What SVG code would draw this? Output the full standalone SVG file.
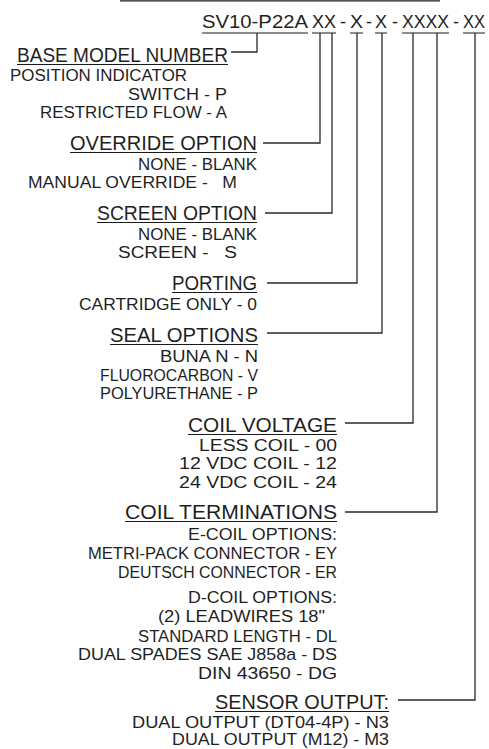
<svg xmlns="http://www.w3.org/2000/svg" width="489" height="749" viewBox="0 0 489 749">
<style>
text{font-family:"Liberation Sans",Arial,sans-serif;fill:#1f1f1f;white-space:pre;}
.h{font-size:20px;}
.i{font-size:16px;}
.m{font-size:19px;}
.u{stroke:#1a1a1a;stroke-width:1.2;fill:none;}
.c{stroke:#2a2a2a;stroke-width:1.3;fill:none;}
</style>
<rect width="489" height="749" fill="#fff"/>
<line class="u" x1="120" y1="0.8" x2="440" y2="0.8" stroke-width="1.6"/>

<g id="model">
<text class="m" x="202" y="28" textLength="106" lengthAdjust="spacingAndGlyphs">SV10-P22A</text>
<text class="m" x="312" y="28" textLength="24" lengthAdjust="spacingAndGlyphs">XX</text>
<text class="m" x="340" y="28" textLength="6" lengthAdjust="spacingAndGlyphs">-</text>
<text class="m" x="350" y="28" textLength="13" lengthAdjust="spacingAndGlyphs">X</text>
<text class="m" x="366" y="28" textLength="6" lengthAdjust="spacingAndGlyphs">-</text>
<text class="m" x="375" y="28" textLength="12" lengthAdjust="spacingAndGlyphs">X</text>
<text class="m" x="392" y="28" textLength="6" lengthAdjust="spacingAndGlyphs">-</text>
<text class="m" x="402" y="28" textLength="47" lengthAdjust="spacingAndGlyphs">XXXX</text>
<text class="m" x="453" y="28" textLength="6" lengthAdjust="spacingAndGlyphs">-</text>
<text class="m" x="463" y="28" textLength="22" lengthAdjust="spacingAndGlyphs">XX</text>
<path class="u" d="M202 33H308M312 33H336M350 33H363M375 33H387M402 33H449M463 33H485"/>
</g>

<g id="base">
<text class="h" x="17" y="62" textLength="211" lengthAdjust="spacingAndGlyphs">BASE MODEL NUMBER</text>
<line class="u" x1="17" y1="64.5" x2="228" y2="64.5"/>
<text class="i" x="10" y="81" textLength="177" lengthAdjust="spacingAndGlyphs">POSITION INDICATOR</text>
<text class="i" x="128" y="100" textLength="99" lengthAdjust="spacingAndGlyphs">SWITCH - P</text>
<text class="i" x="40" y="118" textLength="187" lengthAdjust="spacingAndGlyphs">RESTRICTED FLOW - A</text>
</g>

<g id="override">
<text class="h" x="70" y="150" textLength="187" lengthAdjust="spacingAndGlyphs">OVERRIDE OPTION</text>
<line class="u" x1="70" y1="152.5" x2="257" y2="152.5"/>
<text class="i" x="138" y="170" textLength="119" lengthAdjust="spacingAndGlyphs">NONE - BLANK</text>
<text class="i" x="28" y="188" textLength="209" lengthAdjust="spacingAndGlyphs">MANUAL OVERRIDE -   M</text>
</g>

<g id="screen">
<text class="h" x="97" y="220" textLength="160" lengthAdjust="spacingAndGlyphs">SCREEN OPTION</text>
<line class="u" x1="97" y1="222.5" x2="257" y2="222.5"/>
<text class="i" x="138" y="240" textLength="119" lengthAdjust="spacingAndGlyphs">NONE - BLANK</text>
<text class="i" x="118" y="258" textLength="119" lengthAdjust="spacingAndGlyphs">SCREEN -   S</text>
</g>

<g id="porting">
<text class="h" x="172" y="290" textLength="85" lengthAdjust="spacingAndGlyphs">PORTING</text>
<line class="u" x1="172" y1="292.5" x2="257" y2="292.5"/>
<text class="i" x="79" y="310" textLength="178" lengthAdjust="spacingAndGlyphs">CARTRIDGE ONLY - 0</text>
</g>

<g id="seal">
<text class="h" x="110" y="342" textLength="148" lengthAdjust="spacingAndGlyphs">SEAL OPTIONS</text>
<line class="u" x1="110" y1="344.5" x2="258" y2="344.5"/>
<text class="i" x="160" y="362" textLength="98" lengthAdjust="spacingAndGlyphs">BUNA N - N</text>
<text class="i" x="100" y="381" textLength="158" lengthAdjust="spacingAndGlyphs">FLUOROCARBON - V</text>
<text class="i" x="100" y="399" textLength="158" lengthAdjust="spacingAndGlyphs">POLYURETHANE - P</text>
</g>

<g id="voltage">
<text class="h" x="188" y="432" textLength="149" lengthAdjust="spacingAndGlyphs">COIL VOLTAGE</text>
<line class="u" x1="188" y1="434.5" x2="337" y2="434.5"/>
<text class="i" x="199" y="451" textLength="138" lengthAdjust="spacingAndGlyphs">LESS COIL - 00</text>
<text class="i" x="179" y="469" textLength="158" lengthAdjust="spacingAndGlyphs">12 VDC COIL - 12</text>
<text class="i" x="179" y="488" textLength="158" lengthAdjust="spacingAndGlyphs">24 VDC COIL - 24</text>
</g>

<g id="terminations">
<text class="h" x="125" y="519" textLength="212" lengthAdjust="spacingAndGlyphs">COIL TERMINATIONS</text>
<line class="u" x1="125" y1="521.5" x2="337" y2="521.5"/>
<text class="i" x="188" y="540" textLength="149" lengthAdjust="spacingAndGlyphs">E-COIL OPTIONS:</text>
<text class="i" x="88" y="559" textLength="249" lengthAdjust="spacingAndGlyphs">METRI-PACK CONNECTOR - EY</text>
<text class="i" x="118" y="578" textLength="219" lengthAdjust="spacingAndGlyphs">DEUTSCH CONNECTOR - ER</text>
<text class="i" x="188" y="603" textLength="149" lengthAdjust="spacingAndGlyphs">D-COIL OPTIONS:</text>
<text class="i" x="158" y="622" textLength="167" lengthAdjust="spacingAndGlyphs">(2) LEADWIRES 18"</text>
<text class="i" x="138" y="642" textLength="199" lengthAdjust="spacingAndGlyphs">STANDARD LENGTH - DL</text>
<text class="i" x="78" y="660" textLength="259" lengthAdjust="spacingAndGlyphs">DUAL SPADES SAE J858a - DS</text>
<text class="i" x="198" y="679" textLength="139" lengthAdjust="spacingAndGlyphs">DIN 43650 - DG</text>
</g>

<g id="sensor">
<text class="h" x="215" y="709" textLength="174" lengthAdjust="spacingAndGlyphs">SENSOR OUTPUT:</text>
<line class="u" x1="215" y1="711.5" x2="389" y2="711.5"/>
<text class="i" x="132" y="728" textLength="257" lengthAdjust="spacingAndGlyphs">DUAL OUTPUT (DT04-4P) - N3</text>
<text class="i" x="172" y="745" textLength="217" lengthAdjust="spacingAndGlyphs">DUAL OUTPUT (M12) - M3</text>
</g>

<g id="connectors">
<path class="c" d="M231 52H257V33"/>
<path class="c" d="M263 143H320V33"/>
<path class="c" d="M265 213H332V33"/>
<path class="c" d="M267 283H357V33"/>
<path class="c" d="M267 333H382V33"/>
<path class="c" d="M345 423H413V33"/>
<path class="c" d="M345 512H437V33"/>
<path class="c" d="M398 700H475V33"/>
</g>
</svg>
